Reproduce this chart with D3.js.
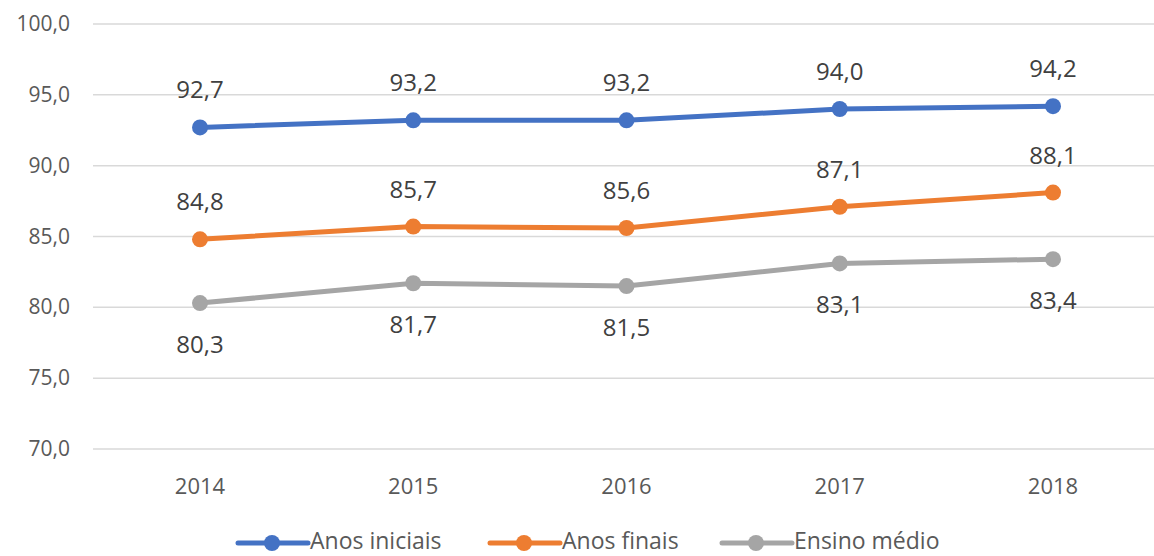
<!DOCTYPE html>
<html>
<head>
<meta charset="utf-8">
<script src="https://cdn.jsdelivr.net/npm/d3@7"></script>
<style>
  body { margin: 0; background: #fff; }
  text { font-family: "Open Sans", "Noto Sans", sans-serif; }
</style>
</head>
<body>
<script>

var years = ["2014", "2015", "2016", "2017", "2018"];
var anosIniciais = [92.7, 93.2, 93.2, 94.0, 94.2];
var anosFinais = [84.8, 85.7, 85.6, 87.1, 88.1];
var ensinoMedio = [80.3, 81.7, 81.5, 83.1, 83.4];
var yTicks = [70, 75, 80, 85, 90, 95, 100];

var series = [
  { name: "Anos iniciais", values: anosIniciais, color: "#4472c4", below: false },
  { name: "Anos finais", values: anosFinais, color: "#ed7d31", below: false },
  { name: "Ensino médio", values: ensinoMedio, color: "#a5a5a5", below: true }
];

var fmt = function(v) { return v.toFixed(1).replace(".", ","); };

var svg = d3.select("body").append("svg")
    .attr("width", 1154)
    .attr("height", 556);

var x = d3.scalePoint()
    .domain(years)
    .range([200, 1053]);

var y = d3.scaleLinear()
    .domain([70, 100])
    .range([449, 24]);

// gridlines
svg.selectAll(".grid")
  .data(yTicks)
  .enter()
  .append("line")
  .attr("x1", 93)
  .attr("x2", 1154)
  .attr("y1", function(d) { return y(d); })
  .attr("y2", function(d) { return y(d); })
  .style("stroke", "#d9d9d9")
  .style("stroke-width", 1.5);

// y labels
svg.selectAll(".ylab")
  .data(yTicks)
  .enter()
  .append("text")
  .attr("x", 70)
  .attr("y", function(d) { return y(d) + 7; })
  .attr("text-anchor", "end")
  .style("font-size", "21px")
  .style("fill", "#595959")
  .text(function(d) { return fmt(d); });

// x labels
svg.selectAll(".xlab")
  .data(years)
  .enter()
  .append("text")
  .attr("x", function(d) { return x(d); })
  .attr("y", 494)
  .attr("text-anchor", "middle")
  .style("font-size", "22px")
  .style("fill", "#595959")
  .text(function(d) { return d; });

var line = d3.line()
    .x(function(d, i) { return x(years[i]); })
    .y(function(d) { return y(d); });

series.forEach(function(s) {
  svg.append("path")
    .attr("d", line(s.values))
    .style("fill", "none")
    .style("stroke", s.color)
    .style("stroke-width", 5)
    .style("stroke-linecap", "round");

  svg.selectAll(null)
    .data(s.values)
    .enter()
    .append("circle")
    .attr("cx", function(d, i) { return x(years[i]); })
    .attr("cy", function(d) { return y(d); })
    .attr("r", 8)
    .style("fill", s.color);

  svg.selectAll(null)
    .data(s.values)
    .enter()
    .append("text")
    .attr("x", function(d, i) { return x(years[i]); })
    .attr("y", function(d) { return s.below ? y(d) + 50 : y(d) - 29; })
    .attr("text-anchor", "middle")
    .style("font-size", "24px")
    .style("fill", "#404040")
    .text(function(d) { return fmt(d); });
});

// legend
var legendX = [238, 490, 722];
series.forEach(function(s, i) {
  var g = svg.append("g").attr("transform", "translate(" + legendX[i] + ",543)");
  g.append("line")
    .attr("x1", 0).attr("x2", 70)
    .style("stroke", s.color)
    .style("stroke-width", 5)
    .style("stroke-linecap", "round");
  g.append("circle")
    .attr("cx", 34)
    .attr("r", 8)
    .style("fill", s.color);
  g.append("text")
    .attr("x", 72)
    .attr("y", 6)
    .style("font-size", "23px")
    .style("fill", "#595959")
    .text(s.name);
});

</script>
</body>
</html>
